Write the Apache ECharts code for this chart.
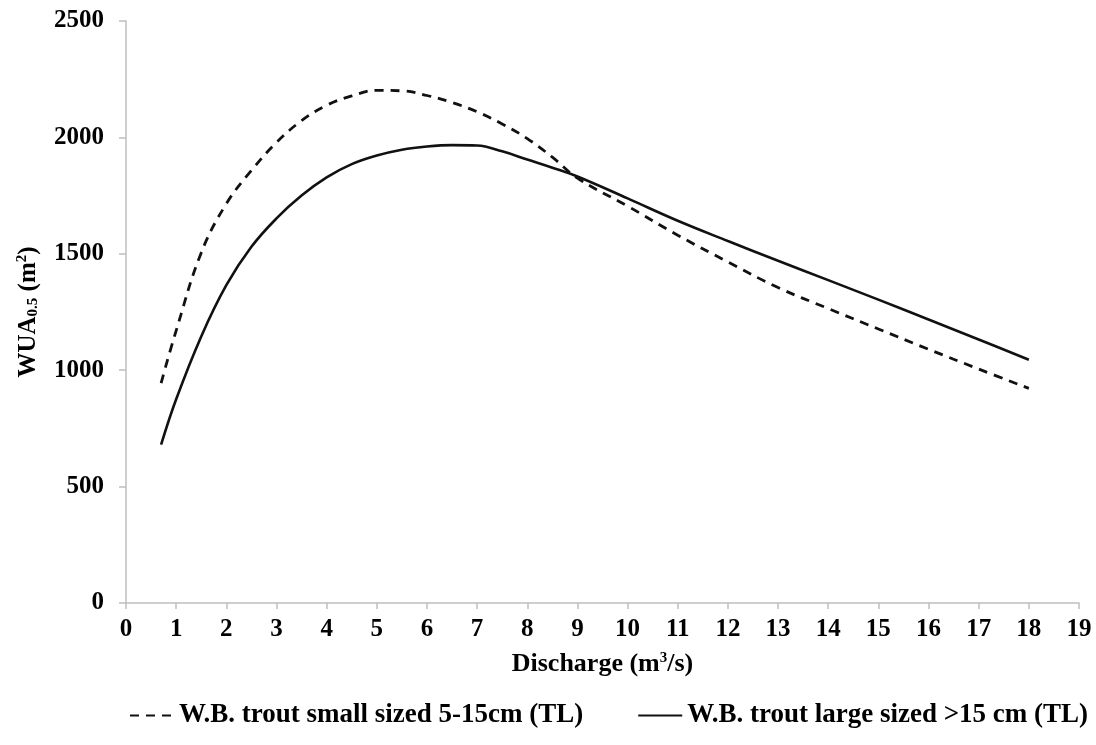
<!DOCTYPE html>
<html>
<head>
<meta charset="utf-8">
<script src="https://cdn.jsdelivr.net/npm/echarts@6/dist/echarts.min.js"></script>
<style>
  html, body { margin: 0; padding: 0; background: #fff; }
  #main { width: 1096px; height: 745px; }
</style>
</head>
<body>
<div id="main"></div>
<script>
// discharge (m3/s)
var discharge = [0.7, 1, 1.5, 2, 2.5, 3, 3.5, 4, 4.5, 5, 5.5, 6, 6.5, 7, 7.5, 8, 8.5, 9, 10, 11, 12, 13, 14, 15, 16, 17, 18];
// WUA small trout 5-15cm
var smallWUA = [945, 1170, 1505, 1715, 1858, 1978, 2072, 2138, 2178, 2202, 2200, 2180, 2150, 2110, 2058, 1995, 1915, 1825, 1705, 1580, 1465, 1355, 1265, 1177, 1090, 1005, 922];
// WUA large trout >15cm
var largeWUA = [680, 875, 1145, 1365, 1530, 1652, 1750, 1828, 1885, 1922, 1947, 1961, 1967, 1965, 1940, 1905, 1870, 1832, 1738, 1642, 1555, 1470, 1387, 1303, 1218, 1132, 1045];

var seriesNames = ['W.B. trout small sized 5-15cm (TL)', 'W.B. trout large sized >15 cm (TL)'];

function pairs(ys) {
  var out = [];
  for (var i = 0; i < discharge.length; i++) out.push([discharge[i], ys[i]]);
  return out;
}

var font = 'Liberation Serif';
var chart = echarts.init(document.getElementById('main'));

var option = {
  backgroundColor: '#fff',
  animation: false,
  textStyle: { fontFamily: font, color: '#000' },
  grid: { left: 126, right: 17, top: 21, bottom: 142 },
  legend: {
    top: 697,
    left: 124,
    itemGap: 54,
    itemWidth: 44,
    itemHeight: 14,
    data: seriesNames,
    itemStyle: { opacity: 0 },
    textStyle: { fontFamily: font, fontWeight: 'bold', fontSize: 27, color: '#000' }
  },
  xAxis: {
    type: 'value',
    min: 0, max: 19, interval: 1,
    name: 'Discharge (m{sup|3}/s)',
    nameLocation: 'middle',
    nameGap: 48,
    nameTextStyle: {
      fontFamily: font, fontWeight: 'bold', fontSize: 26, color: '#000',
      rich: { sup: { fontFamily: font, fontWeight: 'bold', fontSize: 15, verticalAlign: 'top', lineHeight: 26, color: '#000' } }
    },
    axisLine: { lineStyle: { color: '#bfbfbf', width: 1.5 } },
    axisTick: { length: 6, lineStyle: { color: '#bfbfbf', width: 1.5 } },
    axisLabel: { margin: 14, fontFamily: font, fontWeight: 'bold', fontSize: 25, color: '#000' },
    splitLine: { show: false }
  },
  yAxis: {
    type: 'value',
    min: 0, max: 2500, interval: 500,
    name: '{a|WUA}{sub|0.5}{a| (m}{sup|2}{a|)}',
    nameLocation: 'middle',
    nameRotate: 90,
    nameGap: 74,
    nameTextStyle: {
      rich: {
        a: { fontFamily: font, fontWeight: 'bold', fontSize: 25, color: '#000', lineHeight: 30, verticalAlign: 'middle' },
        sub: { fontFamily: font, fontWeight: 'bold', fontSize: 15, color: '#000', lineHeight: 30, verticalAlign: 'bottom', padding: [0, 0, 2, 0] },
        sup: { fontFamily: font, fontWeight: 'bold', fontSize: 15, color: '#000', lineHeight: 30, verticalAlign: 'top', padding: [2, 0, 0, 0] }
      }
    },
    axisLine: { show: true, lineStyle: { color: '#bfbfbf', width: 1.5 } },
    axisTick: { show: true, length: 7, lineStyle: { color: '#bfbfbf', width: 1.5 } },
    axisLabel: {
      margin: 22, fontFamily: font, fontWeight: 'bold', fontSize: 25, color: '#000',
      formatter: function (v) { return String(v); }
    },
    splitLine: { show: false }
  },
  series: [{
    name: seriesNames[0],
    type: 'line',
    data: pairs(smallWUA),
    smooth: 0.4,
    showSymbol: false,
    symbol: 'none',
    lineStyle: { color: '#111', width: 2.8, type: [9, 7] },
    itemStyle: { color: '#111' }
  }, {
    name: seriesNames[1],
    type: 'line',
    data: pairs(largeWUA),
    smooth: 0.4,
    showSymbol: false,
    symbol: 'none',
    lineStyle: { color: '#111', width: 2.6 },
    itemStyle: { color: '#111' }
  }]
};
chart.setOption(option);
</script>
</body>
</html>
